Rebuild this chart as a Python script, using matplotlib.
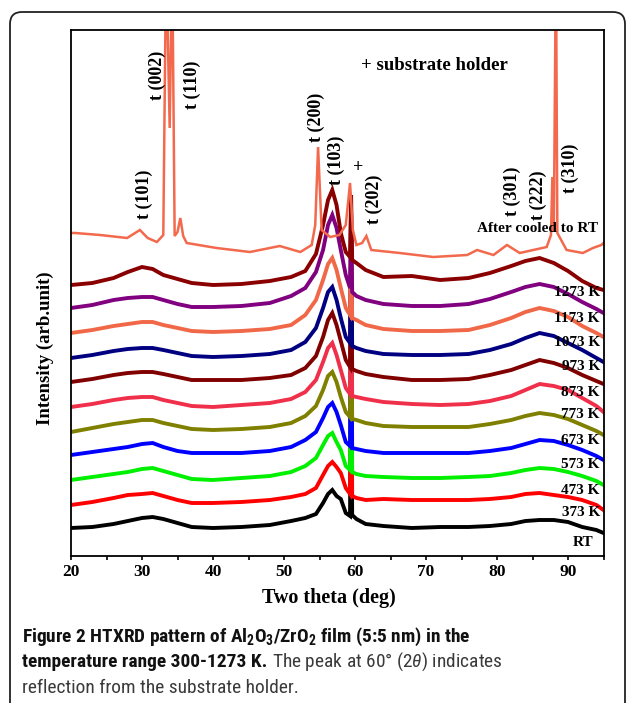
import matplotlib
matplotlib.use("Agg")
import matplotlib.pyplot as plt
from matplotlib import font_manager
from matplotlib.patches import FancyBboxPatch
from matplotlib.transforms import IdentityTransform
from matplotlib.ticker import MultipleLocator

# ---------------- data ----------------
theta = [20, 23, 26, 28, 30, 31.5, 33, 35, 37, 40, 44, 48, 51, 53, 54.5, 55.5, 56.2,
         56.8, 57.4, 58, 58.7, 59.3, 59.45, 59.6, 60.2, 61.5, 64, 68, 72, 76, 79, 82,
         84, 86, 88, 90, 92, 94, 95]

i_rt   = [28, 29, 32, 35, 38, 39, 37, 33, 29, 28, 29, 31, 35, 38, 42, 53, 62, 66, 60, 57,
          43, 40, 230, 41, 37, 32, 30, 28, 29, 29, 30, 32, 35, 36, 36, 34, 29, 26, 23]
i_373  = [51, 54, 58, 61, 62, 63, 60, 56, 53, 53, 54, 56, 59, 62, 68, 81, 90, 94, 89, 83,
          68, 62, 250, 60, 58, 56, 57, 56, 56, 56, 57, 59, 62, 63, 61, 59, 56, 51, 46]
i_473  = [76, 79, 82, 84, 87, 88, 85, 81, 77, 76, 78, 80, 84, 90, 98, 111, 120, 123, 114, 106,
          90, 86, 265, 84, 82, 80, 79, 78, 78, 79, 80, 83, 86, 88, 87, 84, 80, 75, 71]
i_573  = [101, 104, 107, 109, 112, 113, 109, 105, 103, 103, 103, 105, 109, 116, 124, 138, 149, 153, 144, 131,
          114, 110, 280, 108, 107, 105, 103, 103, 103, 103, 105, 108, 112, 116, 115, 111, 106, 100, 96]
i_673  = [124, 128, 132, 134, 136, 136, 133, 130, 127, 126, 127, 129, 133, 140, 150, 166, 180, 184, 174, 159,
          144, 139, 290, 137, 136, 133, 130, 129, 129, 129, 132, 136, 140, 143, 141, 137, 131, 125, 121]
i_773  = [149, 152, 156, 158, 159, 159, 156, 153, 150, 149, 151, 153, 157, 164, 176, 194, 208, 213, 201, 186,
          168, 162, 300, 160, 159, 157, 154, 152, 151, 152, 155, 160, 166, 172, 170, 166, 158, 150, 144]
i_873  = [174, 177, 181, 183, 184, 184, 182, 179, 176, 176, 176, 178, 181, 188, 200, 219, 236, 243, 231, 215,
          196, 189, 310, 187, 185, 182, 179, 176, 176, 177, 181, 186, 191, 196, 193, 188, 181, 175, 172]
i_973  = [198, 201, 205, 207, 208, 208, 206, 203, 200, 199, 200, 202, 206, 214, 228, 248, 264, 269, 256, 238,
          219, 213, 320, 210, 208, 205, 202, 201, 201, 202, 206, 212, 218, 223, 220, 213, 206, 198, 194]
i_1073 = [223, 226, 230, 232, 234, 234, 231, 228, 225, 224, 225, 227, 231, 241, 256, 276, 292, 298, 286, 268,
          248, 241, 330, 238, 236, 231, 227, 225, 225, 226, 231, 238, 244, 248, 245, 239, 230, 223, 219]
i_1173 = [248, 251, 256, 258, 259, 259, 256, 252, 249, 249, 250, 253, 260, 268, 284, 306, 331, 341, 328, 306,
          281, 268, 345, 264, 260, 256, 252, 250, 250, 252, 257, 264, 269, 272, 269, 262, 254, 247, 243]
i_1273 = [271, 273, 278, 284, 289, 287, 281, 277, 273, 271, 272, 275, 279, 285, 302, 331, 356, 366, 351, 323,
          304, 299, 361, 296, 293, 286, 279, 280, 276, 278, 283, 290, 295, 298, 293, 285, 275, 268, 266]

theta_after = [20, 20.6, 24.1, 27.9, 29.7, 30.8, 32.1, 33.0, 33.4, 33.9, 34.25, 34.6, 35.0, 35.4,
               35.8, 36.3, 40.5, 45.2, 49.4, 52.3, 53.9, 54.4, 54.8, 55.3, 56.5, 57.8, 58.7, 59.3,
               59.7, 60.2, 61.0, 61.6, 62.3, 66.3, 71, 75.8, 77.2, 79.5, 81.4, 83.2, 85.1, 87.0,
               87.6, 87.8, 88.0, 88.3, 88.5, 89.8, 92.1, 93.5, 94.7, 95]
i_after = [323, 323, 321, 318, 326, 318, 314, 321, 600, 428, 600, 320, 324, 338,
           320, 313, 308, 304, 310, 304, 311, 331, 409, 326, 319, 321, 331, 373,
           326, 311, 313, 320, 306, 303, 299, 301, 306, 301, 311, 303, 306, 309,
           321, 379, 324, 600, 323, 306, 303, 308, 311, 313]

series_labels = ["RT", "373 K", "473 K", "573 K", "673 K", "773 K", "873 K", "973 K",
                 "1073 K", "1173 K", "1273 K", "After cooled to RT"]
series_values = [i_rt, i_373, i_473, i_573, i_673, i_773, i_873, i_973, i_1073, i_1173, i_1273]
series_colors = ["#000000", "#ff0000", "#00f000", "#0000ff", "#808000", "#f0304a",
                 "#800000", "#000080", "#f06848", "#800080", "#8a0000", "#f2694d"]

peak_labels = ["t (101)", "t (002)", "t (110)", "t (200)", "t (103)", "t (202)",
               "t (301)", "t (222)", "t (310)"]
xtick_labels = ["20", "30", "40", "50", "60", "70", "80", "90"]

# ---------------- styling ----------------
serif = ["Liberation Serif", "DejaVu Serif"]
avail = {f.name for f in font_manager.fontManager.ttflist}
cap_font = next((f for f in ["Roboto Condensed", "Liberation Sans Narrow", "Open Sans", "Roboto"]
                 if f in avail), "DejaVu Sans")
plt.rcParams["mathtext.fontset"] = "custom"
plt.rcParams["mathtext.rm"] = cap_font
plt.rcParams["mathtext.bf"] = cap_font + ":bold"
plt.rcParams["mathtext.it"] = cap_font + ":italic"

W, H = 629, 703
fig = plt.figure(figsize=(W / 100, H / 100), dpi=100)
fig.patch.set_facecolor("white")

ax_l, ax_r, ax_t, ax_b = 71, 603.5, 30, 556
ax = fig.add_axes([ax_l / W, (H - ax_b) / H, (ax_r - ax_l) / W, (ax_b - ax_t) / H])

for vals, col in zip(series_values, series_colors[:-1]):
    ax.plot(theta, vals, color=col, lw=2.8, solid_joinstyle="miter")
ax.plot(theta_after, i_after, color=series_colors[-1], lw=1.8, solid_joinstyle="miter")

ax.set_xlim(20, 95)
ax.set_ylim(0, 526)
ax.set_yticks([])
ax.xaxis.set_minor_locator(MultipleLocator(5))
ax.set_xticks([20, 30, 40, 50, 60, 70, 80, 90])
ax.set_xticklabels(xtick_labels, fontfamily=serif, fontweight="bold", fontsize=12.5)
ax.tick_params(axis="x", which="both", direction="out", length=3, width=1.2, pad=3)
for sp in ax.spines.values():
    sp.set_linewidth(1.3)

# temperature labels (right side)
label_y = [13, 43, 66, 91, 116, 141, 164, 189, 214, 238, 264, 328]
for k, (txt, yy) in enumerate(zip(series_labels, label_y)):
    xx = 93.6 if txt == "RT" else (94.2 if k == len(series_labels) - 1 else 94.5)
    ax.text(xx, yy, txt, ha="right", va="center", fontfamily=serif, fontweight="bold",
            fontsize=11)

# peak labels (rotated)
peak_pos = [(30.4, 362), (32.1, 481), (37.1, 471), (54.6, 439), (57.4, 396), (62.7, 357),
            (82.1, 365), (85.8, 361), (90.3, 388)]
for txt, (xx, yy) in zip(peak_labels, peak_pos):
    ax.text(xx, yy, txt, rotation=90, ha="center", va="center", fontfamily=serif,
            fontweight="bold", fontsize=13)
ax.text(60.5, 389, "+", ha="center", va="center", fontfamily=serif, fontweight="bold", fontsize=13)
ax.text(60.9, 491, "+ substrate holder", ha="left", va="center", fontfamily=serif,
        fontweight="bold", fontsize=13.5)

# axis titles
fig.text(329 / W, 1 - 598 / H, "Two theta (deg)", ha="center", va="center",
         fontfamily=serif, fontweight="bold", fontsize=14.5)
fig.text(45 / W, 1 - 348 / H, "Intensity (arb.unit)", ha="center", va="center", rotation=90,
         fontfamily=serif, fontweight="bold", fontsize=13.5)

# rounded frame
frame = FancyBboxPatch((10, -30), 615, 721, boxstyle="round,pad=0,rounding_size=12",
                       transform=IdentityTransform(), fill=False, lw=1.3, ec="#222222")
fig.add_artist(frame)

# caption
x0 = 21.7 / W
line1 = fig.text(x0, 1 - 642 / H,
                 r"Figure 2 HTXRD pattern of Al$_\mathbf{2}$O$_\mathbf{3}$/ZrO$_\mathbf{2}$ film (5:5 nm) in the",
                 ha="left", va="baseline", fontfamily=cap_font, fontweight="bold",
                 fontsize=12, color="#111111")
fig.canvas.draw()
r = fig.canvas.get_renderer()
w1 = line1.get_window_extent(r).width
fs = 12 * (448 / w1)
line1.set_fontsize(fs)
b2 = fig.text(x0, 1 - 667 / H, "temperature range 300-1273 K.", ha="left", va="baseline",
              fontfamily=cap_font, fontweight="bold", fontsize=fs, color="#111111")
fig.canvas.draw()
bb = b2.get_window_extent(r)
sp = fs * 0.26 * 100 / 72
fig.text((bb.x1 + sp) / W, 1 - 667 / H, r"The peak at 60° (2$\theta$) indicates", ha="left",
         va="baseline", fontfamily=cap_font, fontsize=fs, color="#3a3a3a")
fig.text(x0, 1 - 692.7 / H, "reflection from the substrate holder.", ha="left", va="baseline",
         fontfamily=cap_font, fontsize=fs, color="#3a3a3a")

fig.savefig("out.png", dpi=100, facecolor="white")
